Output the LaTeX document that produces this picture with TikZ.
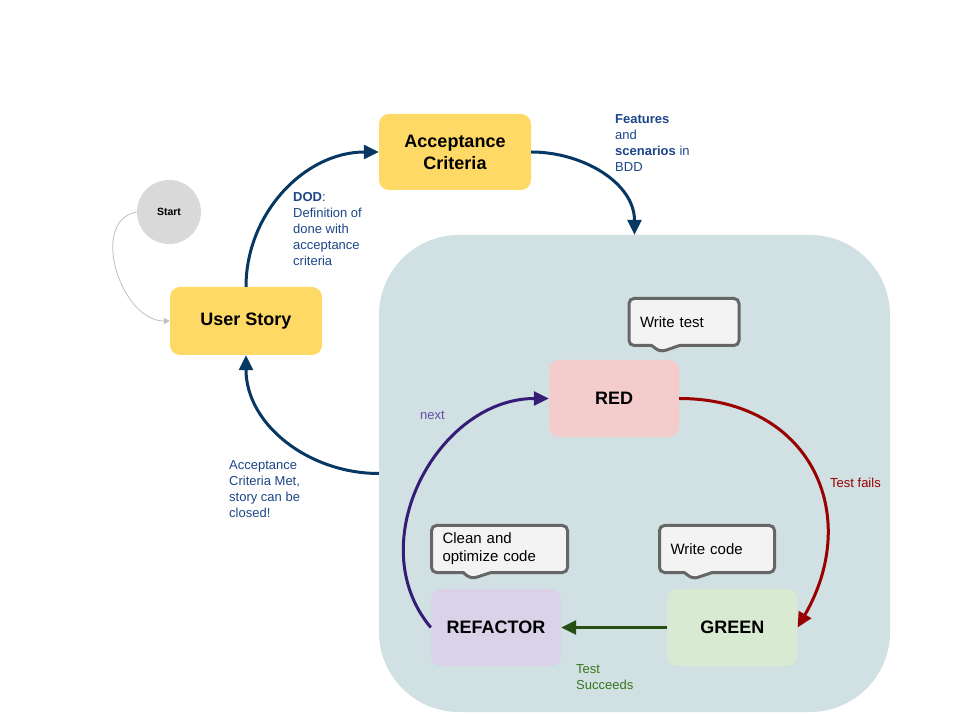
\documentclass[tikz,border=0pt]{standalone}
\usepackage{fontspec}
\setmainfont{Liberation Sans}
\usetikzlibrary{
    shapes.callouts,
    arrows.meta,
    positioning
}

\definecolor{storyyellow}{HTML}{FFD966}
\definecolor{cyclebg}{HTML}{D0E0E3}
\definecolor{redfill}{HTML}{F4CCCC}
\definecolor{greenfill}{HTML}{D9EAD3}
\definecolor{purplefill}{HTML}{D9D2E9}
\definecolor{startgray}{HTML}{D9D9D9}
\definecolor{hintgray}{HTML}{666666}
\definecolor{hintfill}{HTML}{F3F3F3}
\definecolor{flowblue}{HTML}{073763}
\definecolor{noteblue}{HTML}{1C4587}
\definecolor{failred}{HTML}{990000}
\definecolor{passgreen}{HTML}{274E13}
\definecolor{passtext}{HTML}{38761D}
\definecolor{nextpurple}{HTML}{351C75}
\definecolor{nexttext}{HTML}{674EA7}

\begin{document}
\begin{tikzpicture}[
    x=1pt, y=1pt,
    startnode/.style={circle, minimum size=64pt, fill=startgray, font=\fontsize{10.5pt}{12pt}\selectfont\bfseries},
    stage/.style={rectangle, rounded corners=10pt, minimum width=152pt, minimum height=68pt,
                  text centered, align=center, fill=storyyellow, font=\fontsize{18pt}{22pt}\selectfont\bfseries},
    phase/.style={rectangle, rounded corners=10pt, minimum width=130pt, minimum height=77pt,
                  text centered, font=\fontsize{18pt}{22pt}\selectfont\bfseries},
    hint/.style={rectangle callout, rounded corners=5pt, draw=hintgray, line width=3pt, fill=hintfill,
                 minimum height=47pt, inner xsep=11pt, align=left, callout pointer width=28pt,
                 font=\fontsize{15pt}{18pt}\selectfont},
    note/.style={anchor=west, inner sep=0pt, align=left, text=noteblue, font=\fontsize{13pt}{16pt}\selectfont},
    arrow/.style={-{Triangle[length=15pt,width=14pt]}, line width=3pt},
    startarrow/.style={-{Triangle[length=6pt,width=6pt]}, draw=black!25, line width=0.8pt}
]
    \useasboundingbox (0,0) rectangle (960,720);

    % TDD cycle area
    \node (tdd) [rectangle, rounded corners=80pt, fill=cyclebg, minimum width=511pt, minimum height=477pt] at (634.5,246.5) {};

    % Story flow
    \node (start) [startnode] at (169,508) {Start};
    \node (story) [stage] at (246,399) {User Story};
    \node (criteria) [stage, minimum height=76pt] at (455,568) {Acceptance\\Criteria};

    % Red - green - refactor
    \node (red) [phase, fill=redfill] at (614,321.5) {RED};
    \node (refactor) [phase, fill=purplefill] at (496,92.5) {REFACTOR};
    \node (green) [phase, fill=greenfill, right=106pt of refactor] {GREEN};

    % Callouts
    \node (writetest) [hint, text width=88pt, callout absolute pointer={(660.5,368)}] at (684,398) {Write test};
    \node (writecode) [hint, text width=93pt, callout absolute pointer={(693,141)}] at (717,171) {Write code};
    \node (cleanup) [hint, text width=114pt, callout absolute pointer={(471,141)}] at (499.5,171) {Clean and\\optimize code};

    % Labels
    \node (dodnote) [note] at (293,491) {\textbf{DOD}:\\Definition of\\done with\\acceptance\\criteria};
    \node (bddnote) [note] at (615,577) {\textbf{Features}\\and\\\textbf{scenarios} in\\BDD};
    \node (metnote) [note] at (229,231) {Acceptance\\Criteria Met,\\story can be\\closed!};
    \node (nextnote) [note, text=nexttext] at (420,305) {next};
    \node (failnote) [note, text=failred] at (830,237) {Test fails};
    \node (passnote) [note, text=passtext] at (576,43) {Test\\Succeeds};

    % Connections
    \draw [startarrow] (start.west) to[out=190, in=180, looseness=1.1] (story.west);
    \draw [arrow, flowblue] (story.north) to[out=90, in=180] (criteria.west);
    \draw [arrow, flowblue] (criteria.east) to[out=0, in=90] (tdd.north);
    \draw [arrow, flowblue] (tdd.west) to[out=180, in=270] (story.south);
    \draw [arrow, failred] (red.east) to[out=0, in=60, looseness=1.3] (green.east);
    \draw [arrow, passgreen] (green) -- (refactor);
    \draw [arrow, nextpurple] (refactor.west) to[out=130, in=180, looseness=1.1] (red.west);

\end{tikzpicture}
\end{document}
